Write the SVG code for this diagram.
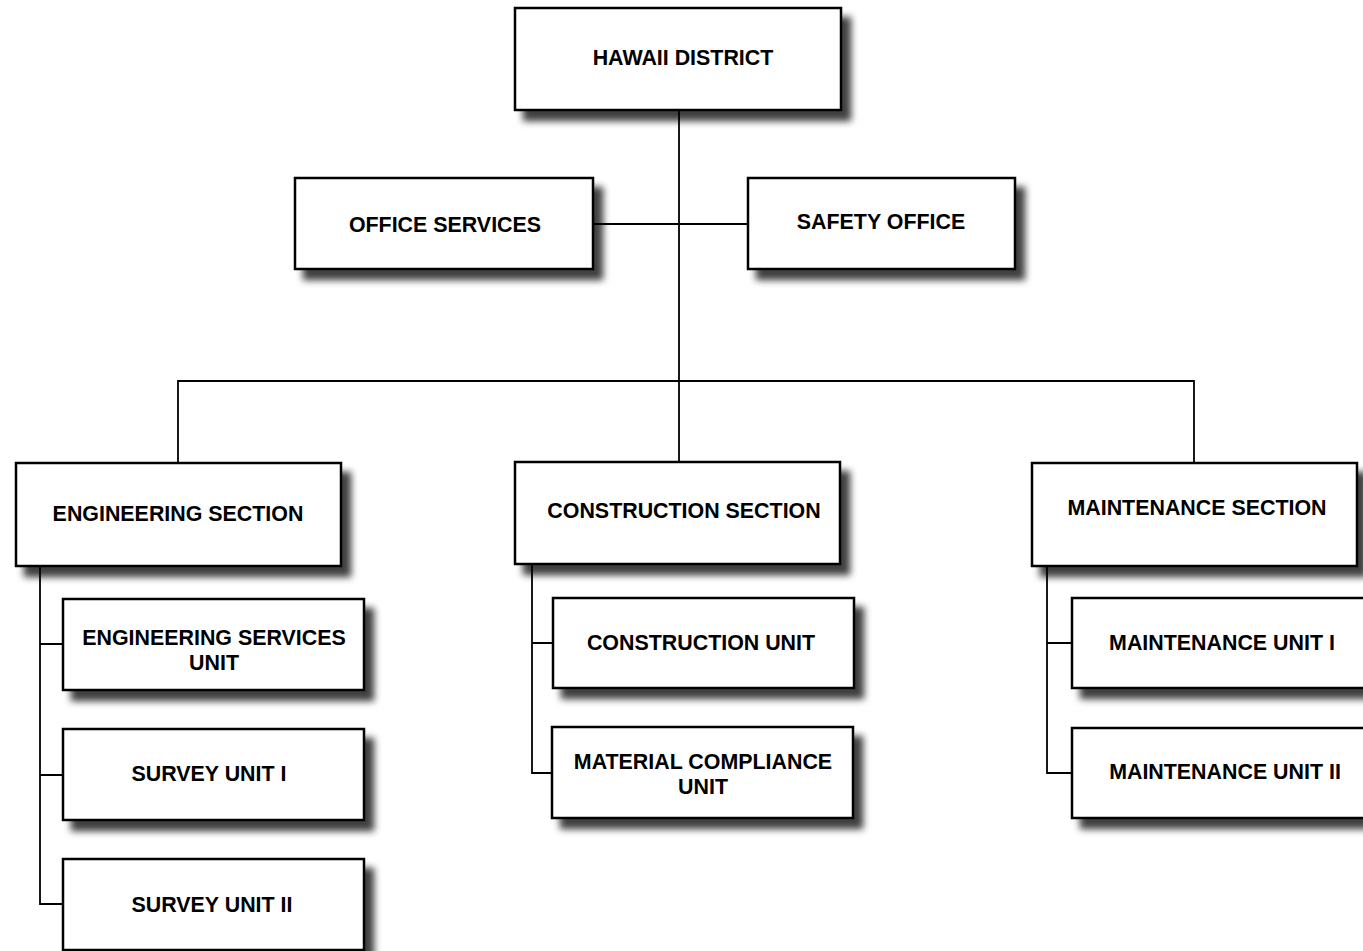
<svg xmlns="http://www.w3.org/2000/svg" width="1363" height="951" viewBox="0 0 1363 951">
<defs>
<filter id="sh" x="-10%" y="-10%" width="130%" height="140%">
<feDropShadow dx="9" dy="10" stdDeviation="3.5" flood-color="#000" flood-opacity="0.75"/>
</filter>
<style>
.box{fill:#fff;stroke:#000;stroke-width:2.5;filter:url(#sh)}
.t{font-family:"Liberation Sans",Arial,sans-serif;font-weight:bold;font-size:21.4px;fill:#000;text-anchor:middle}
.c{fill:none;stroke:#000;stroke-width:1.8}
</style>
</defs>
<rect width="1363" height="951" fill="#fff"/>
<g id="connectors">
<path class="c" d="M679,110V462M593,224H748M178,463V381H1194V463"/>
<path class="c" d="M40,566V904H63M40,644H63M40,775H63"/>
<path class="c" d="M532,564V773H552M532,643H553"/>
<path class="c" d="M1047,566V773H1072M1047,643H1072"/>
</g>
<g id="hawaii"><rect class="box" x="515" y="8" width="326" height="102"/><text class="t" x="683" y="65">HAWAII DISTRICT</text></g>
<g id="office"><rect class="box" x="295" y="178" width="298" height="91"/><text class="t" x="445" y="232">OFFICE SERVICES</text></g>
<g id="safety"><rect class="box" x="748" y="178" width="267" height="91"/><text class="t" x="881" y="229">SAFETY OFFICE</text></g>
<g id="eng"><rect class="box" x="16" y="463" width="325" height="103"/><text class="t" x="178" y="521">ENGINEERING SECTION</text></g>
<g id="cons"><rect class="box" x="515" y="462" width="325" height="102"/><text class="t" x="684" y="518">CONSTRUCTION SECTION</text></g>
<g id="maint"><rect class="box" x="1032" y="463" width="325" height="103"/><text class="t" x="1197" y="515">MAINTENANCE SECTION</text></g>
<g id="engsvc"><rect class="box" x="63" y="599" width="301" height="91"/><text class="t" x="214" y="645">ENGINEERING SERVICES</text><text class="t" x="214" y="670">UNIT</text></g>
<g id="survey1"><rect class="box" x="63" y="729" width="301" height="91"/><text class="t" x="209" y="781">SURVEY UNIT I</text></g>
<g id="survey2"><rect class="box" x="63" y="859" width="301" height="91"/><text class="t" x="212" y="912">SURVEY UNIT II</text></g>
<g id="consunit"><rect class="box" x="553" y="598" width="301" height="90"/><text class="t" x="701" y="650">CONSTRUCTION UNIT</text></g>
<g id="material"><rect class="box" x="552" y="727" width="301" height="91"/><text class="t" x="703" y="769">MATERIAL COMPLIANCE</text><text class="t" x="703" y="794">UNIT</text></g>
<g id="maint1"><rect class="box" x="1072" y="598" width="303" height="90"/><text class="t" x="1222" y="650">MAINTENANCE UNIT I</text></g>
<g id="maint2"><rect class="box" x="1072" y="728" width="303" height="90"/><text class="t" x="1225" y="779">MAINTENANCE UNIT II</text></g>
</svg>
